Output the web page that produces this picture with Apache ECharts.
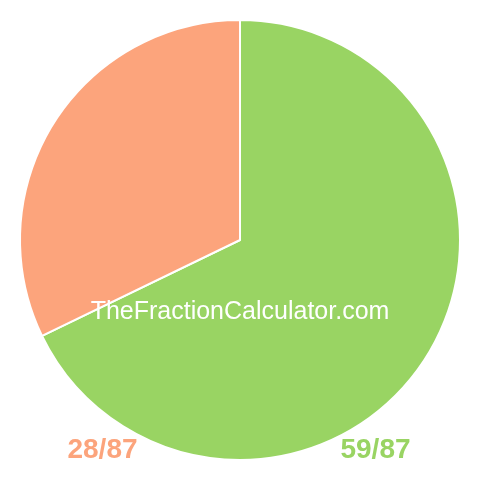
<!DOCTYPE html>
<html>
<head>
<meta charset="utf-8">
<script src="https://cdn.jsdelivr.net/npm/echarts@6/dist/echarts.min.js"></script>
<style>
html,body{margin:0;padding:0;background:#fff;}
#c{width:480px;height:480px;}
</style>
</head>
<body>
<div id="c"></div>
<script>
var categories = ['59/87', '28/87'];
var values = [59, 28];
var colors = ['#99D463', '#FCA47C'];
var watermark = 'TheFractionCalculator.com';

var chart = echarts.init(document.getElementById('c'), null, {renderer: 'canvas'});
chart.setOption({
  animation: false,
  backgroundColor: '#ffffff',
  series: [{
    type: 'pie',
    center: [240, 240],
    radius: [0, 220],
    startAngle: 90,
    clockwise: true,
    label: {show: false},
    labelLine: {show: false},
    emphasis: {disabled: true},
    itemStyle: {borderColor: '#ffffff', borderWidth: 2},
    data: categories.map(function (c, i) {
      return {name: c, value: values[i], itemStyle: {color: colors[i]}};
    })
  }],
  graphic: [
    {
      type: 'text', x: 240, y: 312, z: 100,
      style: {text: watermark, fill: '#ffffff', align: 'center', verticalAlign: 'middle', font: '25px "Liberation Sans", Arial, sans-serif'}
    },
    {
      type: 'text', x: 102.5, y: 450, z: 100,
      style: {text: categories[1], fill: colors[1], align: 'center', verticalAlign: 'middle', font: 'bold 28px "Liberation Sans", Arial, sans-serif'}
    },
    {
      type: 'text', x: 375.5, y: 450, z: 100,
      style: {text: categories[0], fill: colors[0], align: 'center', verticalAlign: 'middle', font: 'bold 28px "Liberation Sans", Arial, sans-serif'}
    }
  ]
});
</script>
</body>
</html>
